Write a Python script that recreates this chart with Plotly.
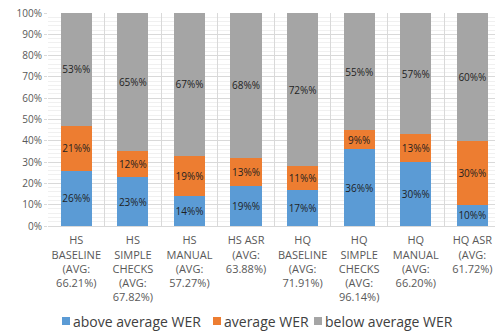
import plotly.graph_objects as go

categories = [
    "HS<br>BASELINE<br>(AVG:<br>66.21%)",
    "HS<br>SIMPLE<br>CHECKS<br>(AVG:<br>67.82%)",
    "HS<br>MANUAL<br>(AVG:<br>57.27%)",
    "HS ASR<br>(AVG:<br>63.88%)",
    "HQ<br>BASELINE<br>(AVG:<br>71.91%)",
    "HQ<br>SIMPLE<br>CHECKS<br>(AVG:<br>96.14%)",
    "HQ<br>MANUAL<br>(AVG:<br>66.20%)",
    "HQ ASR<br>(AVG:<br>61.72%)",
]
above_avg = [26, 23, 14, 19, 17, 36, 30, 10]
average = [21, 12, 19, 13, 11, 9, 13, 30]
below_avg = [53, 65, 67, 68, 72, 55, 57, 60]

series = [
    ("above average WER", above_avg, "#5B9BD5"),
    ("average WER", average, "#ED7D31"),
    ("below average WER", below_avg, "#A5A5A5"),
]

fig = go.Figure()
for name, vals, color in series:
    fig.add_trace(go.Bar(
        x=categories, y=vals, name=name,
        marker=dict(color=color, line=dict(width=0)),
        texttemplate="%{y}%", textposition="inside",
        insidetextanchor="middle", textangle=0, constraintext="none",
        textfont=dict(family="Open Sans", size=10, color="#1F1F1F"),
        showlegend=False,
    ))

# legend row drawn as swatches + labels below the axis
legend_items = [(name, color) for name, _, color in series]
legend_x = [62, 213, 314]  # left edge of each swatch, px
W, H = 495, 331
L, R, T, B = 48, 0, 13, 105
pw, ph = W - L - R, H - T - B
ly = 321
for (name, color), x0 in zip(legend_items, legend_x):
    fig.add_shape(
        type="rect", xref="paper", yref="paper",
        x0=(x0 - L) / pw, x1=(x0 + 8 - L) / pw,
        y0=(H - B - (ly + 4)) / ph, y1=(H - B - (ly - 4)) / ph,
        fillcolor=color, line=dict(width=0),
    )
    fig.add_annotation(
        xref="paper", yref="paper", x=(x0 + 9 - L) / pw, y=(H - B - ly) / ph,
        text=name, showarrow=False, xanchor="left", yanchor="middle",
        font=dict(family="Open Sans", size=14, color="#404040"),
    )

fig.update_layout(
    barmode="stack", bargap=0.45,
    width=W, height=H,
    margin=dict(l=L, r=R, t=T, b=B),
    paper_bgcolor="white", plot_bgcolor="white",
    font=dict(family="Open Sans", color="#595959"),
    showlegend=False,
    xaxis=dict(
        range=[-0.5, 7.4], tickson="boundaries", showgrid=True,
        gridcolor="#D9D9D9", gridwidth=1, showline=True, linecolor="#D9D9D9",
        ticks="", tickfont=dict(family="Open Sans", size=11, color="#595959"),
        tickangle=0, automargin=False, ticklabelstandoff=4,
    ),
    yaxis=dict(
        range=[0, 100], dtick=10, ticksuffix="%", showgrid=True,
        gridcolor="#D9D9D9", gridwidth=1, zeroline=False,
        ticks="outside", ticklen=3, tickcolor="#D9D9D9", automargin=False,
        tickfont=dict(family="Open Sans", size=10, color="#595959"),
        minor=dict(dtick=2, showgrid=True, gridcolor="#F0F0F0", gridwidth=1),
    ),
)

fig.write_html("out.html")
